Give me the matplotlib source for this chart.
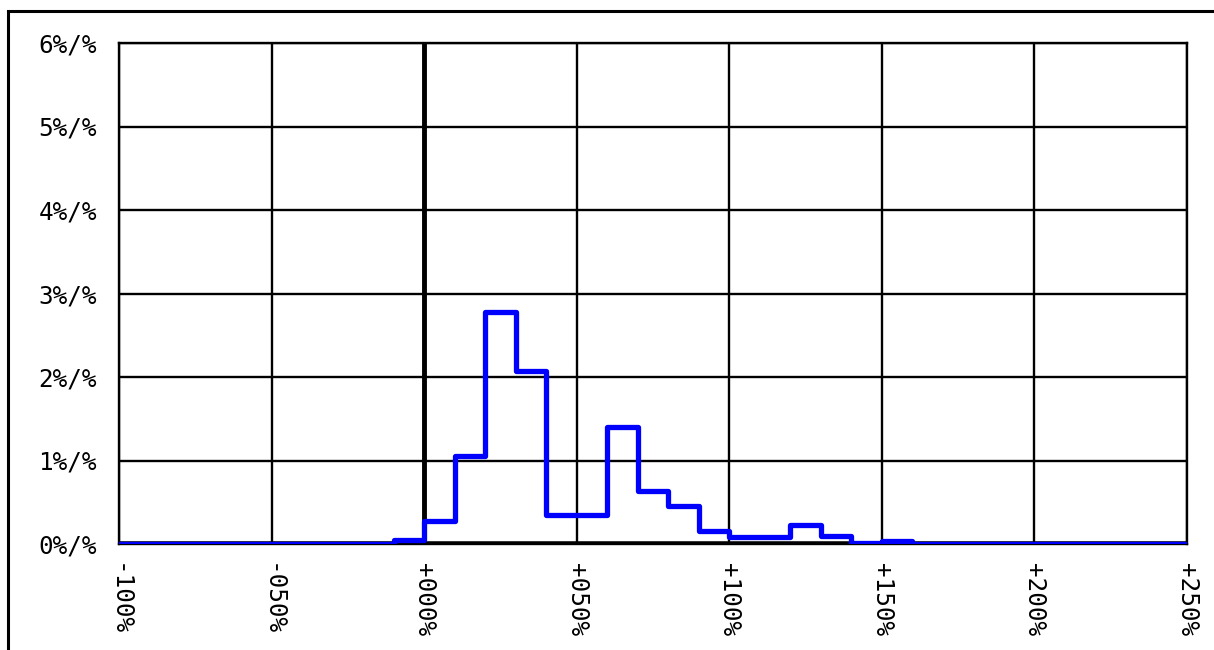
import matplotlib
matplotlib.use("Agg")
import matplotlib.pyplot as plt
from matplotlib.patches import Rectangle

# bin edges (percent change) and density per bin (%/%)
bin_edges = [-100, -90, -80, -70, -60, -50, -40, -30, -20, -10, 0, 10, 20, 30, 40, 50,
             60, 70, 80, 90, 100, 110, 120, 130, 140, 150, 160, 170, 180, 190, 200,
             210, 220, 230, 240, 250]
density = [0, 0, 0, 0, 0, 0, 0, 0, 0, 0.05, 0.28, 1.05, 2.78, 2.07, 0.35, 0.35,
           1.40, 0.64, 0.45, 0.16, 0.08, 0.08, 0.23, 0.10, 0.01, 0.04,
           0, 0, 0, 0, 0, 0, 0, 0, 0]

x_ticks = [-100, -50, 0, 50, 100, 150, 200, 250]
x_labels = ["-100%", "-050%", "+000%", "+050%", "+100%", "+150%", "+200%", "+250%"]
y_ticks = [0, 1, 2, 3, 4, 5, 6]
y_labels = ["0%/%", "1%/%", "2%/%", "3%/%", "4%/%", "5%/%", "6%/%"]

plt.rcParams['font.family'] = ['DejaVu Sans Mono']

fig = plt.figure(figsize=(12.14, 6.5), dpi=100)
ax = fig.add_axes([119/1214, 1 - 544/650, (1187-119)/1214, (544-43)/650])

# outer frame of the figure
fig.patches.append(Rectangle((8/1214, -0.2), 1.2, 1.2 - 11/650,
                             transform=fig.transFigure, fill=False,
                             edgecolor="black", linewidth=2.2))

ax.set_xlim(-100, 250)
ax.set_ylim(0, 6)
ax.set_xticks(x_ticks)
ax.set_xticklabels(x_labels, rotation=270, fontsize=17.5)
ax.set_yticks(y_ticks)
ax.set_yticklabels(y_labels, fontsize=17.5)
ax.tick_params(length=0)
ax.tick_params(axis="y", pad=16)
ax.tick_params(axis="x", pad=14)
ax.grid(True, color="black", linewidth=1.7)
for s in ax.spines.values():
    s.set_linewidth(1.7)

ax.axvline(0, color="black", linewidth=3.5, zorder=2)
ax.axhline(0, color="black", linewidth=4, zorder=2)

steps = ax.stairs(density, bin_edges, color="#0000ff", linewidth=3.8, zorder=3)
steps.set_joinstyle("round")
steps.set_capstyle("round")

fig.savefig("out.png", dpi=100)
